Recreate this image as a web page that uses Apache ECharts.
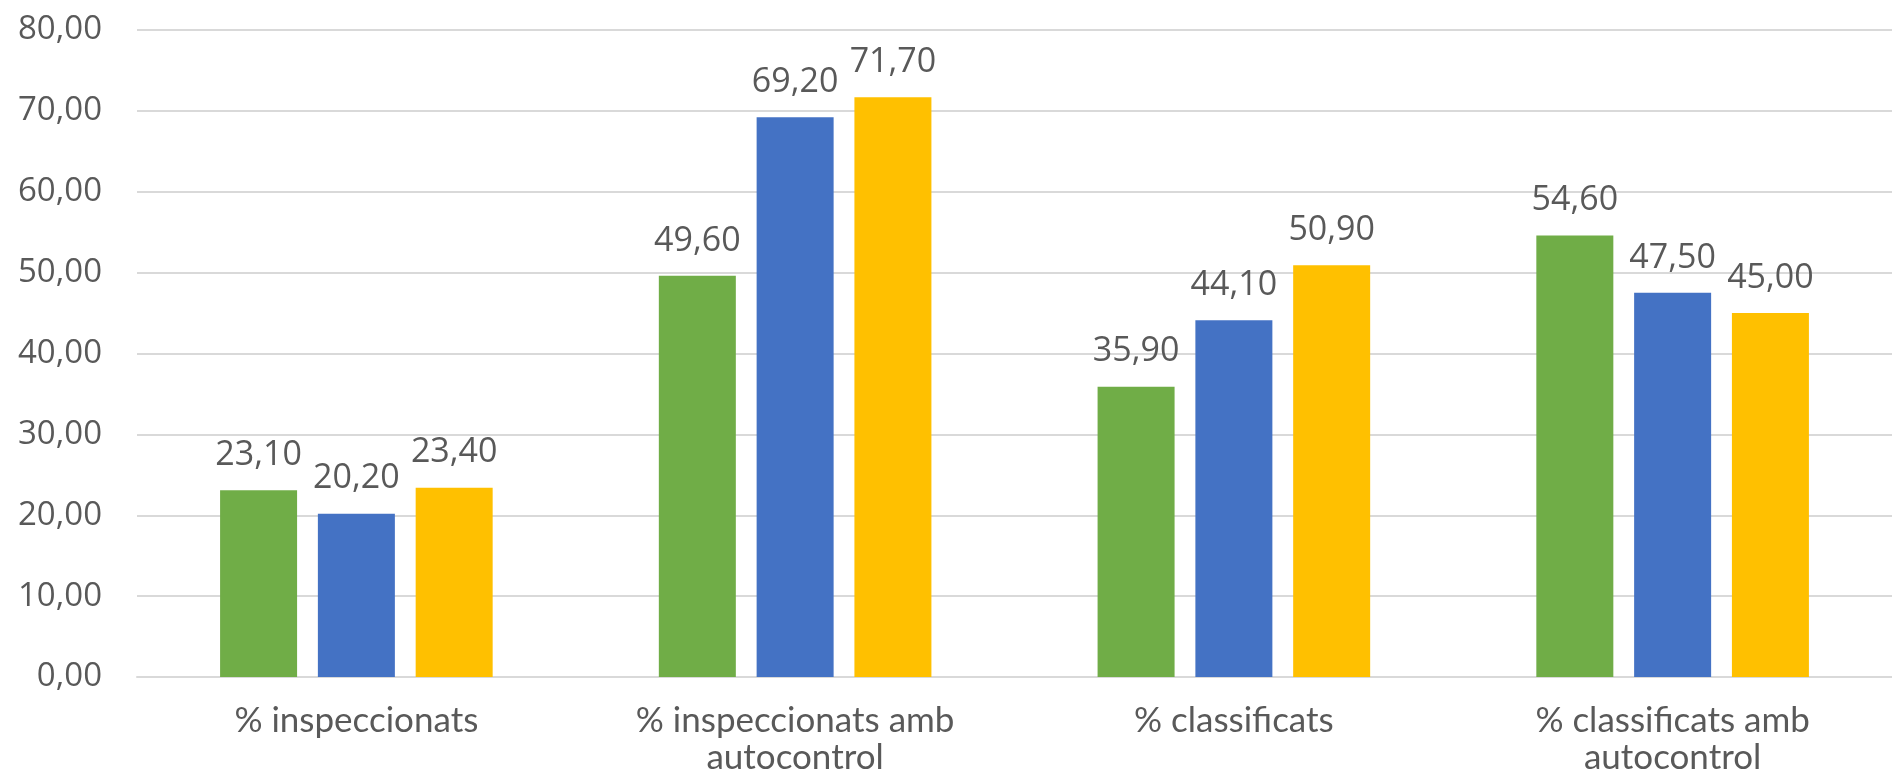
<!DOCTYPE html>
<html>
<head>
<meta charset="utf-8">
<script src="https://cdn.jsdelivr.net/npm/echarts@6/dist/echarts.min.js"></script>
<style>
html,body{margin:0;padding:0;background:#fff;}
#chart{width:1892px;height:779px;}
</style>
</head>
<body>
<div id="chart"></div>
<script>
const categories = ['% inspeccionats', '% inspeccionats amb\nautocontrol', '% classificats', '% classificats amb\nautocontrol'];
const seriesGreen = [23.1, 49.6, 35.9, 54.6];
const seriesBlue = [20.2, 69.2, 44.1, 47.5];
const seriesYellow = [23.4, 71.7, 50.9, 45.0];
const seriesNames = ['Sèrie 1', 'Sèrie 2', 'Sèrie 3'];
const colors = ['#70AD47', '#4472C4', '#FFC000'];

const fmt = v => v.toFixed(2).replace('.', ',');

const chart = echarts.init(document.getElementById('chart'));
const mk = (name, data, color) => ({
  name: name,
  type: 'bar',
  data: data,
  barWidth: 77,
  barGap: '27%',
  itemStyle: { color: color },
  label: {
    show: true,
    position: 'top',
    distance: 18,
    formatter: p => fmt(p.value),
    color: '#595959',
    fontFamily: 'Open Sans',
    fontSize: 34
  }
});
chart.setOption({
  animation: false,
  backgroundColor: '#ffffff',
  grid: { left: 137, top: 30, width: 1768, height: 647, containLabel: false },
  xAxis: {
    type: 'category',
    data: categories,
    axisLine: { show: true, lineStyle: { color: '#d9d9d9', width: 2 } },
    axisTick: { show: false },
    axisLabel: {
      color: '#595959',
      fontFamily: 'Lato',
      fontSize: 35,
      lineHeight: 37,
      margin: 25,
      interval: 0
    }
  },
  yAxis: {
    type: 'value',
    min: 0,
    max: 80,
    interval: 10,
    axisLine: { show: false },
    axisTick: { show: false },
    splitLine: { lineStyle: { color: '#d9d9d9', width: 2 } },
    axisLabel: {
      color: '#595959',
      fontFamily: 'Open Sans',
      fontSize: 33,
      margin: 35,
      formatter: v => fmt(v)
    }
  },
  series: [
    mk(seriesNames[0], seriesGreen, colors[0]),
    mk(seriesNames[1], seriesBlue, colors[1]),
    mk(seriesNames[2], seriesYellow, colors[2])
  ]
});
</script>
</body>
</html>
